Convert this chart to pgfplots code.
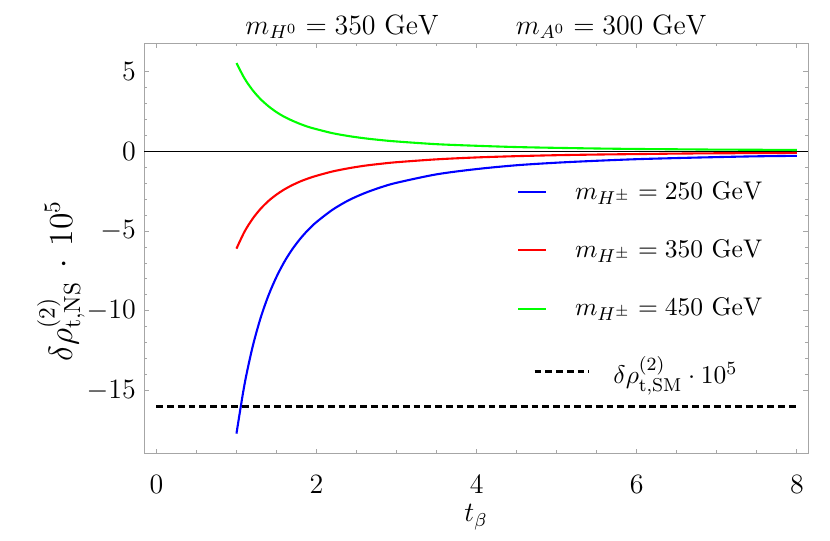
\documentclass[border=0pt]{standalone}
\usepackage{pgfplots}
\pgfplotsset{compat=1.18}
\pgfplotsset{
 colimg/.style={legend image code/.code={\path[draw=none,fill=none] (0,0) -- (30.2pt,0); \draw[##1] (0,0) -- (12pt,0);}},
 dashimg/.style={legend image code/.code={\path[draw=none,fill=none] (0,0) -- (30.2pt,0); \draw[##1] (7pt,0) -- (30.2pt,0);}},
}
\begin{document}
\begin{tikzpicture}
\path[use as bounding box] (-61.8pt,-37.3pt) rectangle (294.4pt,194.5pt);
\begin{axis}[
 scale only axis, width=285pt, height=176pt,
 xmin=-0.155, xmax=8.14, ymin=-18.93, ymax=6.79,
 xtick={0,2,4,6,8}, ytick={-15,-10,-5,0,5},
 minor x tick num=3, minor y tick num=4,
 tick align=inside, major tick length=2pt, minor tick length=1.2pt,
 axis line style={gray!70},
 tick style={gray!70, line width=0.4pt},
 tick label style={font=\large},
 xticklabel style={yshift=-6pt},
 xlabel={$t_\beta$},
 xlabel style={font=\large, at={(rel axis cs:0.5,0)}, anchor=center, yshift=-27.5pt},
 ylabel={$\delta\rho^{(2)}_{\mathrm{t,NS}}\,\cdot\,10^5$},
 ylabel style={font=\fontsize{14}{17}\selectfont, at={(rel axis cs:-0.125,0.42)}, anchor=center},
 clip=false,
 legend cell align=left,
 legend style={at={(rel axis cs:0.551,0.686)}, anchor=north west, draw=none, fill=none, row sep=12pt, font=\fontsize{11.2}{13.5}\selectfont},
]
\addplot[black, line width=0.45pt, forget plot] coordinates {(-0.155,0) (8.14,0)};
\addplot[blue, line width=0.9pt, smooth, colimg]
coordinates {(1,-17.70) (1.1,-14.63) (1.2,-12.29) (1.3,-10.47) (1.4,-9.03) (1.5,-7.87) (1.6,-6.91) (1.7,-6.12) (1.8,-5.46) (1.9,-4.90) (2.0,-4.43) (2.2,-3.66) (2.4,-3.07) (2.6,-2.62) (2.8,-2.26) (3.0,-1.97) (3.5,-1.44) (4,-1.11) (4.5,-0.87) (5,-0.71) (5.5,-0.59) (6,-0.49) (6.5,-0.42) (7,-0.36) (7.5,-0.31) (8,-0.28)};
\addlegendentry{\hspace*{-8.5pt}$m_{H^\pm}=250\ \mathrm{GeV}$}
\addplot[red, line width=0.9pt, smooth, colimg]
coordinates {(1,-6.10) (1.1,-5.04) (1.2,-4.24) (1.3,-3.61) (1.4,-3.11) (1.5,-2.71) (1.6,-2.38) (1.7,-2.11) (1.8,-1.88) (1.9,-1.69) (2.0,-1.53) (2.2,-1.26) (2.4,-1.06) (2.6,-0.90) (2.8,-0.78) (3.0,-0.68) (3.5,-0.50) (4,-0.38) (4.5,-0.30) (5,-0.24) (5.5,-0.20) (6,-0.17) (6.5,-0.14) (7,-0.12) (7.5,-0.11) (8,-0.095)};
\addlegendentry{\hspace*{-8.5pt}$m_{H^\pm}=350\ \mathrm{GeV}$}
\addplot[green, line width=0.9pt, smooth, colimg]
coordinates {(1,5.54) (1.1,4.58) (1.2,3.85) (1.3,3.28) (1.4,2.83) (1.5,2.46) (1.6,2.16) (1.7,1.92) (1.8,1.71) (1.9,1.53) (2.0,1.39) (2.2,1.14) (2.4,0.96) (2.6,0.82) (2.8,0.71) (3.0,0.62) (3.5,0.45) (4,0.35) (4.5,0.27) (5,0.22) (5.5,0.18) (6,0.15) (6.5,0.13) (7,0.11) (7.5,0.10) (8,0.087)};
\addlegendentry{\hspace*{-8.5pt}$m_{H^\pm}=450\ \mathrm{GeV}$}
\addplot[black, line width=1.2pt, dash pattern=on 2.9pt off 1.7pt, dashimg]
coordinates {(0,-16) (8,-16)};
\addlegendentry{\hspace*{8pt}$\delta\rho^{(2)}_{\mathrm{t,SM}}\cdot 10^5$}
\node[anchor=base, font=\fontsize{11.5}{14}\selectfont, yshift=3.8pt] at (rel axis cs:0.5,1)
 {$m_{H^0}=350\ \mathrm{GeV}$\hspace{33pt}$m_{A^0}=300\ \mathrm{GeV}$};
\end{axis}
\end{tikzpicture}
\end{document}
